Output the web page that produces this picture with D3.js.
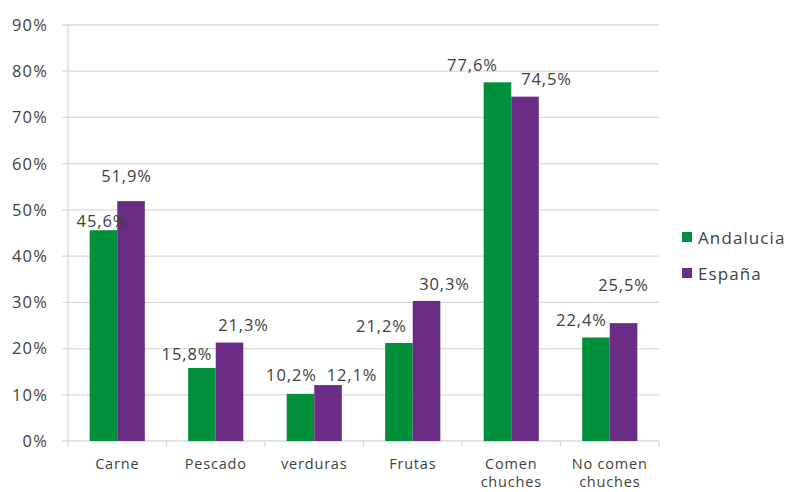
<!DOCTYPE html>
<html><head><meta charset="utf-8">
<script src="https://cdn.jsdelivr.net/npm/d3@7"></script>
<style>
body{margin:0;background:#fff;}
text{font-family:"Open Sans",sans-serif;fill:#3f3f3f;}
</style></head>
<body><svg id="c" width="787" height="492"></svg>
<script>
const categories = ["Carne","Pescado","verduras","Frutas","Comen\nchuches","No comen\nchuches"];
const seriesNames = ["Andalucia","España"];
const andalucia = [45.6, 15.8, 10.2, 21.2, 77.6, 22.4];
const espana = [51.9, 21.3, 12.1, 30.3, 74.5, 25.5];
const yTicks = [0,10,20,30,40,50,60,70,80,90];
const colors = ["#00903c","#6b2c86"];
// label nudges (dx from bar centre, dy from bar top), per series
const nudgeA = [[-1.5,-3],[-15,-8],[-9,-13],[-17.5,-11],[-25,-11],[-14.5,-11.5]];
const nudgeE = [[-4.5,-19],[14,-12],[24,-4],[18,-11],[21.5,-12],[0,-32]];

const svg = d3.select("#c");
const m = {l:68, r:659, t:25, b:441};
const y = d3.scaleLinear().domain([0,90]).range([m.b,m.t]);
const x0 = d3.scaleBand().domain(categories).range([m.l,m.r]).paddingInner(0.44).paddingOuter(0.22);
const x1 = d3.scaleBand().domain(seriesNames).range([0,x0.bandwidth()]);

// gridlines
svg.append("g").selectAll("line").data(yTicks).join("line")
  .attr("x1",m.l-6).attr("x2",m.r).attr("y1",d=>y(d)).attr("y2",d=>y(d))
  .attr("stroke","#d9d9d9").attr("stroke-width",1.3);
// y axis line
svg.append("line").attr("x1",m.l).attr("x2",m.l).attr("y1",m.t).attr("y2",m.b).attr("stroke","#d9d9d9").attr("stroke-width",1.3);
// y labels
svg.append("g").selectAll("text").data(yTicks).join("text")
  .attr("x",48).attr("y",d=>y(d)).attr("dy","0.36em").attr("text-anchor","end")
  .attr("font-size",16.5).attr("letter-spacing",1.2).text(d=>d+"%");
// x ticks
const step = x0.step();
const bounds = d3.range(categories.length+1).map(i=>m.l+i*step);
svg.append("g").selectAll("line").data(bounds).join("line")
  .attr("x1",d=>d).attr("x2",d=>d).attr("y1",m.b).attr("y2",m.b+6)
  .attr("stroke","#d9d9d9").attr("stroke-width",1.3);

const data = categories.map((c,i)=>({c,vals:[andalucia[i],espana[i]],i}));
const nudges=[nudgeA,nudgeE];
const g = svg.append("g").selectAll("g").data(data).join("g")
  .attr("transform",d=>`translate(${x0(d.c)},0)`);
g.selectAll("rect").data(d=>d.vals.map((v,k)=>({v,k}))).join("rect")
  .attr("x",d=>x1(seriesNames[d.k])).attr("width",x1.bandwidth())
  .attr("y",d=>y(d.v)).attr("height",d=>y(0)-y(d.v)).attr("fill",d=>colors[d.k]);
g.selectAll("text").data(d=>d.vals.map((v,k)=>({v,k,i:d.i}))).join("text")
  .attr("x",d=>x1(seriesNames[d.k])+x1.bandwidth()/2+nudges[d.k][d.i][0])
  .attr("y",d=>y(d.v)+nudges[d.k][d.i][1])
  .attr("text-anchor","middle").attr("font-size",16.5).attr("letter-spacing",0.9)
  .text(d=>d.v.toFixed(1).replace(".",",")+"%");

// x labels
svg.append("g").selectAll("text").data(categories).join("text")
  .attr("x",d=>x0(d)+x0.bandwidth()/2).attr("y",469).attr("text-anchor","middle")
  .attr("font-size",14.5).attr("letter-spacing",0.8)
  .each(function(d){
    const lines=d.split("\n");
    d3.select(this).selectAll("tspan").data(lines).join("tspan")
      .attr("x",x0(d)+x0.bandwidth()/2).attr("dy",(l,j)=>j?17.5:0).text(l=>l);
  });

// legend
const lg = svg.append("g").selectAll("g").data(seriesNames).join("g")
  .attr("transform",(d,i)=>`translate(682,${232+i*36})`);
lg.append("rect").attr("width",10).attr("height",10).attr("fill",(d,i)=>colors[i]);
lg.append("text").attr("x",16).attr("y",12).attr("font-size",17).attr("letter-spacing",1.1).text(d=>d);
</script></body></html>
